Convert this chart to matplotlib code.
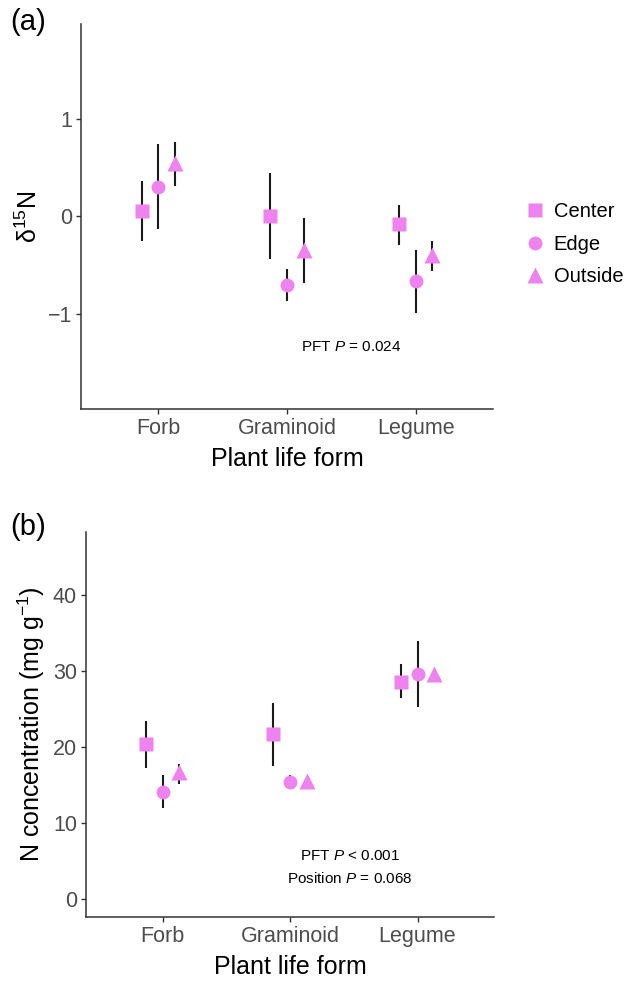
import numpy as np
import matplotlib
matplotlib.use("Agg")
import matplotlib.pyplot as plt

plt.rcParams['font.family'] = ['Liberation Sans', 'DejaVu Sans']
plt.rcParams['mathtext.fontset'] = 'custom'
plt.rcParams['mathtext.rm'] = 'Liberation Sans'
plt.rcParams['mathtext.it'] = 'Liberation Sans:italic'

forms = ['Forb', 'Graminoid', 'Legume']
positions = ['Center', 'Edge', 'Outside']

# panel (a): delta 15N, mean and error bar ends per position (Forb, Graminoid, Legume)
d15n_mean = {'Center': [0.06, 0.00, -0.08],
             'Edge': [0.30, -0.70, -0.66],
             'Outside': [0.55, -0.34, -0.39]}
d15n_lo = {'Center': [-0.25, -0.44, -0.29],
           'Edge': [-0.13, -0.87, -0.99],
           'Outside': [0.31, -0.68, -0.56]}
d15n_hi = {'Center': [0.36, 0.44, 0.12],
           'Edge': [0.74, -0.54, -0.34],
           'Outside': [0.76, -0.02, -0.25]}

# panel (b): N concentration (mg g-1)
nconc_mean = {'Center': [20.4, 21.7, 28.6],
              'Edge': [14.1, 15.4, 29.6],
              'Outside': [16.8, 15.5, 29.6]}
nconc_lo = {'Center': [17.3, 17.5, 26.5],
            'Edge': [12.0, 14.6, 25.3],
            'Outside': [15.1, 15.1, 29.2]}
nconc_hi = {'Center': [23.5, 25.8, 30.9],
            'Edge': [16.3, 16.3, 33.9],
            'Outside': [17.8, 15.9, 30.1]}

col = '#EE82EE'
markers = {'Center': 's', 'Edge': 'o', 'Outside': '^'}
msize = {'Center': 10, 'Edge': 10, 'Outside': 11.5}
dodge = {'Center': -0.13, 'Edge': 0.0, 'Outside': 0.13}


def panel(ax, mean, lo, hi, ylim, yticks, ylabel):
    x = np.arange(len(forms)) + 1
    for p in positions:
        xs = x + dodge[p]
        ax.vlines(xs, lo[p], hi[p], color='#1a1a1a', lw=1.5, zorder=2)
        ax.plot(xs, mean[p], ls='none', marker=markers[p], ms=msize[p],
                color=col, mec='none', zorder=3, label=p)
    ax.set_xlim(0.4, 3.6)
    ax.set_ylim(*ylim)
    ax.set_xticks(x)
    ax.set_xticklabels(forms)
    ax.set_yticks(yticks)
    ax.set_yticklabels([str(t).replace('-', '\u2212') for t in yticks])
    for s in ['top', 'right']:
        ax.spines[s].set_visible(False)
    for s in ['left', 'bottom']:
        ax.spines[s].set_color('#333333')
        ax.spines[s].set_linewidth(1.1)
    ax.tick_params(colors='#333333', labelcolor='#4D4D4D', labelsize=15.5,
                   length=3.5, width=1.0, pad=3)
    ax.set_xlabel('Plant life form', fontsize=18, color='black', labelpad=6)
    ax.set_ylabel(ylabel, fontsize=18, color='black', labelpad=4)


fig = plt.figure(figsize=(6.27, 9.86), dpi=100)

ax1 = fig.add_axes([0.1292, 0.5852, 0.6571, 0.3905])
panel(ax1, d15n_mean, d15n_lo, d15n_hi, (-1.97, 1.97), [-1, 0, 1],
      r'$\mathregular{\delta^{15}N}$')
ax1.text(0.655, 0.16, r'PFT $P$ = 0.024', transform=ax1.transAxes,
         ha='center', va='center', fontsize=11)
ax1.legend(loc='center left', bbox_to_anchor=(1.054, 0.428), frameon=False,
           fontsize=14.5, handletextpad=0.3, labelspacing=0.66,
           handlelength=1.2, borderaxespad=0, markerscale=1.0)

ax2 = fig.add_axes([0.1372, 0.0700, 0.6507, 0.3908])
panel(ax2, nconc_mean, nconc_lo, nconc_hi, (-2.3, 48.3), [0, 10, 20, 30, 40],
      r'N concentration (mg g$^{\mathregular{-1}}$)')
ax2.text(0.647, 0.128, 'PFT $P$ < 0.001\nPosition $P$ = 0.068',
         transform=ax2.transAxes, ha='center', va='center', fontsize=11,
         linespacing=1.65)

fig.text(0.016, 0.978, '(a)', fontsize=21, ha='left', va='center')
fig.text(0.016, 0.466, '(b)', fontsize=21, ha='left', va='center')

fig.savefig('out.png', dpi=100)
